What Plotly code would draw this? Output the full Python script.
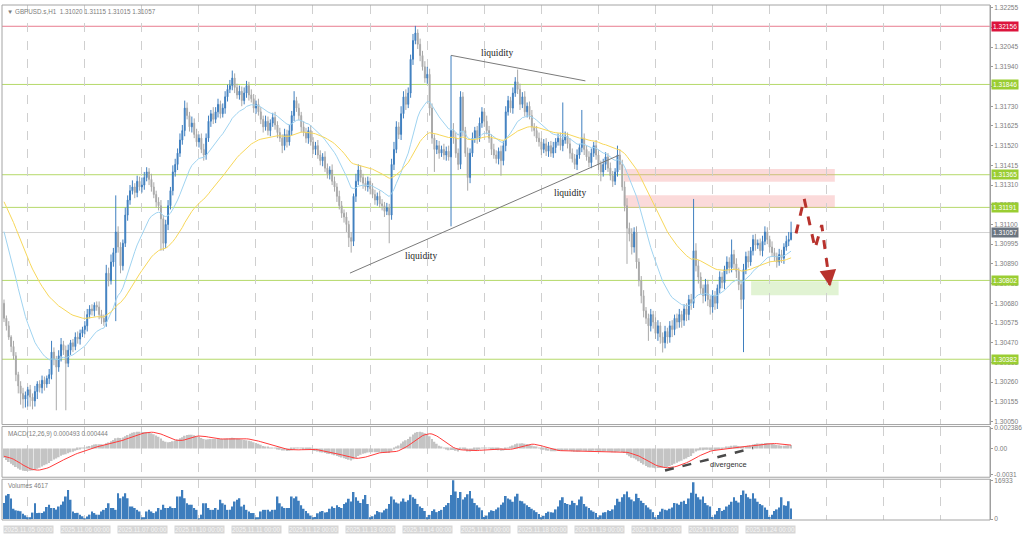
import plotly.graph_objects as go

# ---------------- DATA ----------------
BASE = 1.30000
POINT = 0.00001          # values below are in points above 1.30000

first_open_pts = 680
close_pts = (
    [600,560,500,450,400,300,240,200,170,190,220,180,160,210,250,230,270,250,280,300,420,380,340,400]
  + [460,430,360,430,470,450,500,490,520,540,560,620,650,640,670,660,620,600,580,840,800,900,950,1060]
  + [980,880,1000,1150,1230,1280,1300,1270,1330,1300,1310,1350,1380,1340,1300,1260,1220,1200,1130,1000,1100,1200,1280,1380]
  + [1420,1480,1550,1600,1720,1680,1620,1640,1580,1540,1560,1500,1470,1560,1650,1690,1660,1700,1740,1690,1720,1780,1820,1840]
  + [1880,1830,1790,1810,1760,1800,1840,1790,1770,1720,1740,1700,1660,1620,1650,1600,1640,1670,1630,1590,1560,1520,1580,1540]
  + [1600,1680,1760,1720,1680,1620,1590,1560,1600,1540,1500,1520,1470,1440,1460,1400,1370,1390,1330,1300,1250,1200,1160,1140]
  + [1100,1030,1010,1250,1330,1390,1350,1320,1300,1330,1290,1260,1230,1250,1210,1200,1170,1190,1150,1420,1500,1620,1580,1690]
  + [1780,1740,1800,1980,2080,2120,2060,2000,1940,1880,1900,1720,1560,1500,1520,1480,1500,1470,1490,1460,1600,1560,1480,1420]
  + [1780,1600,1480,1350,1480,1560,1600,1560,1640,1700,1650,1600,1560,1500,1470,1450,1490,1440,1520,1700,1760,1720,1800,1860]
  + [1820,1740,1780,1700,1730,1680,1620,1600,1560,1540,1500,1530,1490,1520,1480,1510,1540,1560,1520,1550,1570,1530,1480,1450]
  + [1420,1470,1510,1560,1500,1460,1430,1480,1520,1470,1420,1380,1420,1460,1400,1360,1330,1380,1470,1420,1300,1200,1080,1050]
  + [980,1060,900,800,720,640,600,560,620,580,520,560,500,470,530,500,560,540,600,580,620,590,650,620]
  + [700,680,960,880,820,760,720,780,700,660,720,680,760,820,790,860,900,870,940,890,850,780,700,860]
  + [930,900,960,1020,990,1000,960,1010,1060,1020,980,950,930,900,940,920,980,1010,1020,1057]
)
upper_wick_pts = (
    [20,15,25,10,30,20,15,25,30,20,15,25,20,30,15,20,25,20,15,30,60,25,20,30]
  + [35,20,25,30,15,20,25,30,20,15,25,30,20,25,15,20,30,25,20,45,30,40,25,195]
  + [30,25,20,40,25,30,35,20,30,25,40,30,25,20,30,25,20,25,30,20,25,30,20,35]
  + [30,25,35,30,40,30,20,35,25,30,20,25,30,25,30,20,35,25,30,20,25,30,25,30]
  + [40,25,20,30,25,30,25,20,30,25,20,30,25,20,30,25,20,25,30,20,25,20,30,25]
  + [30,25,50,20,25,20,30,25,20,30,25,20,30,25,20,30,25,20,30,25,20,30,25,20]
  + [25,20,30,15,40,30,25,20,30,25,20,30,25,20,30,25,20,25,20,30,40,30,25,40]
  + [30,40,30,25,35,38,20,30,25,30,40,30,25,20,30,25,20,30,25,30,400,40,30,25]
  + [30,25,20,30,25,30,20,25,30,25,20,30,25,20,30,25,20,30,25,30,25,20,30,25]
  + [65,30,25,30,20,25,30,20,25,30,20,25,30,20,25,30,20,25,30,200,25,20,30,25]
  + [25,30,20,150,25,20,30,25,20,30,25,20,30,25,20,30,25,20,50,30,25,30,40,30]
  + [30,25,30,20,25,30,20,25,30,20,25,30,20,25,30,20,25,30,20,25,30,20,25,30]
  + [25,30,276,40,30,25,20,30,25,20,30,25,20,30,25,20,30,25,80,25,30,20,25,30]
  + [25,30,20,25,30,20,25,30,30,25,20,30,25,20,30,25,20,30,40,58]
)
lower_wick_pts = (
    [20,25,15,30,20,35,40,60,50,45,60,50,45,30,40,25,30,35,20,30,25,30,230,25]
  + [30,25,250,20,25,30,20,25,30,20,25,30,20,25,30,20,25,30,20,25,30,20,25,365]
  + [30,40,25,20,30,25,20,30,25,20,30,25,20,30,25,20,30,25,170,40,25,30,20,25]
  + [25,30,20,25,30,20,25,30,20,25,30,20,30,25,20,30,25,20,30,25,20,30,25,20]
  + [25,30,20,25,30,20,25,30,20,25,30,20,25,30,20,25,30,20,25,30,20,40,25,30]
  + [20,25,30,20,25,30,20,25,30,20,25,30,20,25,30,20,25,30,20,25,30,20,25,30]
  + [40,50,60,25,30,20,25,30,20,25,30,20,25,30,20,25,30,20,150,25,30,20,25,30]
  + [25,30,20,25,30,20,25,30,20,25,30,40,30,120,25,30,20,25,30,20,370,30,25,30]
  + [25,30,20,70,30,20,25,30,20,25,30,20,25,30,20,25,30,80,25,30,20,25,30,20]
  + [25,30,20,25,30,20,25,30,20,25,30,20,25,30,20,25,30,20,25,30,20,25,30,20]
  + [25,30,20,25,30,20,25,30,20,25,30,50,25,30,20,25,30,20,25,30,20,30,190,40]
  + [40,30,35,30,40,35,30,80,30,35,30,40,35,52,30,35,30,40,30,35,30,40,30,35]
  + [30,35,25,30,35,30,40,30,35,40,30,35,30,25,30,35,25,30,25,30,35,30,50,280]
  + [25,30,20,25,30,20,25,30,20,25,30,20,25,30,20,25,30,20,25,5]
)
volumes = (
    [7000,10300,10900,9000,4500,3800,3600,3400,2300,1600]
  + [800,500,2800,6900,2600,2700,2600,3300,5200,6200,4800,4800,4100,5500,6200,7700,9800,12700,8400,3300,2600,2700,1900,1200]
  + [300,1100,1900,3300,2600,1900,1900,3300,4000,4800,6900,4800,4800,4000,11300,9100,9800,11300,9100,5500,5500,4800,4000,3300]
  + [700,400,3300,4000,3300,2600,3300,4800,4000,6200,4800,4800,5500,4800,4800,9800,9800,12700,9100,6900,6200,6200,4800,4000]
  + [300,1900,6900,6900,4800,4000,4000,4800,4000,8400,6900,6200,4000,4000,5500,7700,8400,9100,5500,6200,4000,3300,2600,2600]
  + [400,500,3300,4000,4000,4000,3300,4000,4000,9800,6900,5500,4800,4800,4800,9800,9100,9800,8000,6000,4500,3500,2500,1500]
  + [500,900,2500,3200,3500,2800,3000,4500,5500,4800,6000,5200,4800,6500,7200,8800,7600,11800,9500,8000,7000,8600,10500,6500]
  + [700,1200,2000,3500,3000,2800,3800,4500,6500,9800,8500,7200,6800,7600,9000,7500,8200,10600,9500,8800,6500,5500,4800,3500]
  + [800,1800,3500,4200,3000,3500,4000,5200,6000,7000,10500,16933,12000,9200,11800,8500,9500,10800,12200,9000,7000,6000,5000,3800]
  + [900,1500,3000,3800,3500,4200,5000,6200,7200,10000,9000,8500,7500,9800,11000,8000,7800,6800,6000,5200,4500,3800,3000,2200]
  + [600,1400,2600,3200,3000,2800,4200,5500,8200,9500,7000,6500,6200,8000,7000,6000,8500,9800,6500,5500,4800,3800,3200,2600]
  + [700,1600,2800,3000,3800,3500,4200,6000,8800,7500,9500,10800,12000,9500,8500,7800,11000,9200,8000,7000,6000,5000,4200,3000]
  + [800,1800,3200,4500,4000,3800,4500,5000,7000,6800,6200,7500,8000,6500,9000,11500,16000,11000,9500,8500,9800,7000,6000,5500]
  + [900,2000,3500,4800,3500,4000,5500,6200,7500,9500,8000,7200,10500,12500,11000,9500,8800,11200,9000,7500,6500,6000,5000,4000]
  + [900,1900,3500,4200,5000,9500,6000,5800,7800,4617]
)

# indicator settings; EMA seeds read at the left edge of the picture
ma_fast_period, ma_slow_period = 20, 50
ma_fast_start, ma_slow_start = 1.31062, 1.31221
macd_fast_period, macd_slow_period, macd_signal_period = 12, 26, 9
macd_fast_start, macd_slow_start, macd_signal_start = 1.30990, 1.31100, -0.00090

level_red = 1.32156
levels_green = [1.31846, 1.31365, 1.31191, 1.30802, 1.30382]
last_price = 1.31057

price_tick_labels = ["1.30050","1.30155","1.30260","1.30365","1.30470","1.30575","1.30680","1.30785",
                     "1.30890","1.30995","1.31100","1.31205","1.31310","1.31415","1.31520","1.31625",
                     "1.31730","1.31835","1.31940","1.32045","1.32150","1.32255"]
macd_tick_labels = ["0.002386", "0.00", "-0.0031"]
volume_tick_labels = ["16933", "0"]
date_labels = ["2025.11.05 00:00","2025.11.06 00:00","2025.11.07 00:00","2025.11.10 00:00",
               "2025.11.11 00:00","2025.11.12 00:00","2025.11.13 00:00","2025.11.14 00:00",
               "2025.11.17 00:00","2025.11.18 00:00","2025.11.19 00:00","2025.11.20 00:00",
               "2025.11.21 00:00","2025.11.24 00:00"]
BARS_PER_DAY = 24

# drawings (bar index, price)
supply_zone_1 = (260.7, 349.4, 1.31327, 1.31395)
supply_zone_2 = (260.7, 349.4, 1.31189, 1.31256)
demand_zone = (314.2, 351.0, 1.30723, 1.30797)
forecast_x = [333.1, 336.5, 341.1, 343.9, 347.4]
forecast_y = [1.31053, 1.31238, 1.30973, 1.31097, 1.30770]
liq_upper_x, liq_upper_y = [188.0, 244.5], [1.32001, 1.31865]
liq_lower_x, liq_lower_y = [145.5, 258.6], [1.30841, 1.31469]
liq_labels = [(207.2, 1.32015), (238.2, 1.31270), (175.2, 1.30933)]
div_x, div_y = [278, 315], [-0.0026, 0.00004]
div_label = (304.5, -0.0019)

# ---------------- DERIVED ----------------
n = len(close_pts)
idx = list(range(n))
open_pts = [first_open_pts] + close_pts[:-1]
high_pts = [max(o, c) + u for o, c, u in zip(open_pts, close_pts, upper_wick_pts)]
low_pts = [min(o, c) - l for o, c, l in zip(open_pts, close_pts, lower_wick_pts)]
to_price = lambda arr: [BASE + v * POINT for v in arr]
O, Hh, L, C = to_price(open_pts), to_price(high_pts), to_price(low_pts), to_price(close_pts)

def ema(values, period, seed):
    a = 2.0 / (period + 1)
    out = [seed]
    e = seed
    for v in values[1:]:
        e += a * (v - e)
        out.append(e)
    return out

ma_fast = ema(C, ma_fast_period, ma_fast_start)
ma_slow = ema(C, ma_slow_period, ma_slow_start)
e_fast = ema(C, macd_fast_period, macd_fast_start)
e_slow = ema(C, macd_slow_period, macd_slow_start)
macd = [a - b for a, b in zip(e_fast, e_slow)]
hist = [macd_signal_start] * (macd_signal_period - 1) + macd
signal = [sum(hist[i:i + macd_signal_period]) / macd_signal_period for i in range(n)]

# ---------------- LAYOUT GEOMETRY ----------------
W, H = 1024, 537
ML, MR, MT, MB = 2, 29, 2, 17
PH = H - MT - MB
def dom(p_top, p_bot):
    return [(H - MB - p_bot) / PH, (H - MB - p_top) / PH]
d_main, d_macd, d_vol = dom(2, 424), dom(426, 477), dom(479, 520)
x_range = [-0.84, 414.66]

FONT = "Liberation Sans"
GRAY_TXT = "#7d7d7d"
BULL, BEAR = "#3f7fbf", "#a9a9a9"

fig = go.Figure()
fig.add_trace(go.Candlestick(
    x=idx, open=O, high=Hh, low=L, close=C, xaxis="x", yaxis="y",
    increasing=dict(line=dict(color=BULL, width=1), fillcolor=BULL),
    decreasing=dict(line=dict(color=BEAR, width=1), fillcolor=BEAR),
    whiskerwidth=0, hoverinfo="skip"))
fig.add_trace(go.Scatter(x=idx, y=ma_fast, mode="lines", line=dict(color="#9fd3f0", width=1),
                         xaxis="x", yaxis="y", hoverinfo="skip"))
fig.add_trace(go.Scatter(x=idx, y=ma_slow, mode="lines", line=dict(color="#f7d75a", width=1),
                         xaxis="x", yaxis="y", hoverinfo="skip"))
fig.add_trace(go.Scatter(x=forecast_x, y=forecast_y, mode="lines",
                         line=dict(color="#b8322d", width=3, dash="dash"),
                         xaxis="x", yaxis="y", hoverinfo="skip"))
fig.add_trace(go.Bar(x=idx, y=macd, marker=dict(color="#c4c4c4", line=dict(width=0)),
                     xaxis="x2", yaxis="y2", hoverinfo="skip"))
fig.add_trace(go.Scatter(x=idx, y=signal, mode="lines", line=dict(color="#ff3b3b", width=1),
                         xaxis="x2", yaxis="y2", hoverinfo="skip"))
fig.add_trace(go.Bar(x=idx, y=volumes, marker=dict(color="#3d7dbd", line=dict(width=0)),
                     xaxis="x3", yaxis="y3", hoverinfo="skip"))

xcommon = dict(range=x_range, showticklabels=False, showgrid=True, gridcolor="#cfcfcf",
               griddash="dash", gridwidth=1, tick0=9.92, dtick=BARS_PER_DAY,
               zeroline=False, showline=False, ticks="")
ycommon = dict(side="right", showgrid=False, zeroline=False, showline=True, linecolor="#9a9a9a",
               ticks="outside", ticklen=2, tickcolor="#9a9a9a",
               tickfont=dict(family=FONT, size=6.6, color=GRAY_TXT))

price_tick_vals = [float(t) for t in price_tick_labels]
macd_tick_vals = [float(t) for t in macd_tick_labels]
vol_tick_vals = [float(t) for t in volume_tick_labels]

fig.update_layout(
    width=W, height=H, margin=dict(l=ML, r=MR, t=MT, b=MB),
    paper_bgcolor="white", plot_bgcolor="white", showlegend=False, hovermode=False,
    boxgap=0.45, bargap=0.25,
    xaxis=dict(**xcommon, domain=[0, 1], anchor="y", rangeslider=dict(visible=False)),
    xaxis2=dict(**xcommon, domain=[0, 1], anchor="y2", matches="x"),
    xaxis3=dict(**xcommon, domain=[0, 1], anchor="y3", matches="x"),
    yaxis=dict(**ycommon, domain=d_main, anchor="x", range=[1.30034, 1.322693],
               tickvals=price_tick_vals, ticktext=price_tick_labels),
    yaxis2=dict(**ycommon, domain=d_macd, anchor="x2", range=[-0.003384, 0.002567],
                tickvals=macd_tick_vals, ticktext=macd_tick_labels),
    yaxis3=dict(**ycommon, domain=d_vol, anchor="x3", range=[-434, 17367],
                tickvals=vol_tick_vals, ticktext=volume_tick_labels),
)

shapes = []
# panel frames
for d in (d_main, d_macd, d_vol):
    shapes.append(dict(type="rect", xref="paper", yref="paper", x0=0, x1=1, y0=d[0], y1=d[1],
                       line=dict(color="#a4a4a4", width=1), layer="above"))
# zones
for (x0, x1, y0, y1), col in ((supply_zone_1, "rgba(244,150,150,0.35)"),
                              (supply_zone_2, "rgba(244,150,150,0.35)"),
                              (demand_zone, "rgba(170,220,130,0.35)")):
    shapes.append(dict(type="rect", xref="x", yref="y", x0=x0, x1=x1, y0=y0, y1=y1,
                       fillcolor=col, line=dict(width=0), layer="below"))
# horizontal levels
shapes.append(dict(type="line", xref="paper", yref="y", x0=0, x1=1, y0=level_red, y1=level_red,
                   line=dict(color="#e87c90", width=1), layer="below"))
for lv in levels_green:
    shapes.append(dict(type="line", xref="paper", yref="y", x0=0, x1=1, y0=lv, y1=lv,
                       line=dict(color="#b5d96a", width=1), layer="below"))
shapes.append(dict(type="line", xref="paper", yref="y", x0=0, x1=1, y0=last_price, y1=last_price,
                   line=dict(color="#d2d2d2", width=1), layer="below"))
# liquidity trend lines
shapes.append(dict(type="line", xref="x", yref="y", x0=liq_upper_x[0], x1=liq_upper_x[1],
                   y0=liq_upper_y[0], y1=liq_upper_y[1], line=dict(color="#7a7a7a", width=1)))
shapes.append(dict(type="line", xref="x", yref="y", x0=liq_lower_x[0], x1=liq_lower_x[1],
                   y0=liq_lower_y[0], y1=liq_lower_y[1], line=dict(color="#7a7a7a", width=1)))
# divergence line
shapes.append(dict(type="line", xref="x2", yref="y2", x0=div_x[0], x1=div_x[1], y0=div_y[0], y1=div_y[1],
                   line=dict(color="#4a4a4a", width=2.5, dash="dash")))
fig.update_layout(shapes=shapes)

ann = []
def right_label(v, bg):
    ann.append(dict(xref="paper", yref="y", x=1, y=v, xanchor="left", yanchor="middle", xshift=1,
                    text=f"{v:.5f}", showarrow=False, bgcolor=bg, borderpad=1,
                    font=dict(family=FONT, size=6.6, color="white")))
right_label(level_red, "#dc143c")
for lv in levels_green:
    right_label(lv, "#9acd32")
right_label(last_price, "#6b7580")

for (lx, ly) in liq_labels:
    ann.append(dict(xref="x", yref="y", x=lx, y=ly, text="liquidity", showarrow=False,
                    font=dict(family="Liberation Serif", size=9.5, color="#222222")))
ann.append(dict(xref="x2", yref="y2", x=div_label[0], y=div_label[1], text="divergence",
                showarrow=False, font=dict(family=FONT, size=7.5, color="#333333")))
# arrow head of the forecast path
ann.append(dict(xref="x", yref="y", x=forecast_x[-1], y=forecast_y[-1], ax=-1.6, ay=-12,
                showarrow=True, arrowhead=2, arrowsize=1.1, arrowwidth=3, arrowcolor="#b8322d", text=""))

# panel captions
ann.append(dict(xref="paper", yref="paper", x=0, y=d_main[1], xanchor="left", yanchor="top",
                xshift=3, yshift=-1, showarrow=False,
                text="\u25BC GBPUSD.s,H1  1.31020 1.31115 1.31015 1.31057",
                font=dict(family=FONT, size=6.3, color=GRAY_TXT)))
ann.append(dict(xref="paper", yref="paper", x=0, y=d_macd[1], xanchor="left", yanchor="top",
                xshift=4, yshift=-1, showarrow=False, text="MACD(12,26,9) 0.000493 0.000444",
                font=dict(family=FONT, size=6.3, color=GRAY_TXT)))
ann.append(dict(xref="paper", yref="paper", x=0, y=d_vol[1], xanchor="left", yanchor="top",
                xshift=4, yshift=-1, showarrow=False, text="Volumes 4617",
                font=dict(family=FONT, size=6.3, color=GRAY_TXT)))
# time axis labels
for k, lab in enumerate(date_labels):
    ann.append(dict(xref="x3", yref="paper", x=k * BARS_PER_DAY, y=0, xanchor="left", yanchor="top",
                    yshift=-5, xshift=-1, showarrow=False, text=lab, bgcolor="#d6d6d6", borderpad=0,
                    font=dict(family=FONT, size=6.3, color="#f6f6f6")))
fig.update_layout(annotations=ann)

fig.write_html("out.html", config={"displayModeBar": False},
               post_script="document.body.style.margin='0';document.body.style.padding='0';"
                           "document.body.style.overflow='hidden';")
